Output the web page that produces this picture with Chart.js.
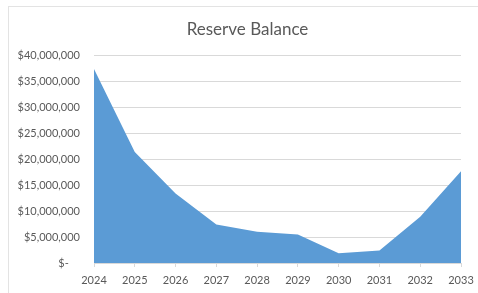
<!DOCTYPE html>
<html>
<head>
<meta charset="utf-8">
<script src="https://cdn.jsdelivr.net/npm/chart.js@4/dist/chart.umd.min.js"></script>
<style>
  html, body { margin: 0; padding: 0; background: #fff; }
  #wrap { width: 478px; height: 293px; position: relative; }
</style>
</head>
<body>
<div id="wrap"><canvas id="grafico"></canvas></div>
<script>
const years = ['2024', '2025', '2026', '2027', '2028', '2029', '2030', '2031', '2032', '2033'];
const balance = [37400000, 21400000, 13400000, 7400000, 6000000, 5500000, 1900000, 2400000, 8900000, 17700000];
const yTicks = [0, 5000000, 10000000, 15000000, 20000000, 25000000, 30000000, 35000000, 40000000];

// light frame round the chart, and title nudged right like the original
const frame = {
  id: 'frame',
  afterLayout(chart) {
    if (chart.titleBlock) chart.titleBlock.left += 26;
  },
  beforeDraw(chart) {
    const c = chart.ctx;
    c.save();
    c.strokeStyle = '#e3e3e3';
    c.lineWidth = 1;
    c.strokeRect(8.5, 6.5, 490, 300);
    c.restore();
  }
};

const ctx = document.getElementById('grafico').getContext('2d');
new Chart(ctx, {
  type: 'line',
  data: {
    labels: years,
    datasets: [{
      label: 'Reserve Balance',
      data: balance,
      fill: 'origin',
      backgroundColor: '#5b9bd5',
      borderColor: '#5b9bd5',
      borderWidth: 0,
      pointRadius: 0,
      tension: 0
    }]
  },
  options: {
    responsive: true,
    maintainAspectRatio: false,
    animation: false,
    layout: { padding: { left: 8, right: 17, top: 11, bottom: 0 } },
    plugins: {
      legend: { display: false },
      tooltip: { enabled: false },
      title: {
        display: true,
        text: 'Reserve Balance',
        color: '#595959',
        font: { family: 'Lato', size: 17, weight: 'normal' },
        padding: { top: 8, bottom: 16 }
      }
    },
    scales: {
      x: {
        offset: false,
        grid: { display: true, drawOnChartArea: false, tickLength: 4, color: '#d9d9d9' },
        border: { color: '#d9d9d9' },
        ticks: { color: '#595959', font: { family: 'Lato', size: 11 }, maxRotation: 0, padding: 7 },
        afterFit: s => { s.height = 30; s.paddingRight = 0; s.paddingLeft = 0; }
      },
      y: {
        min: 0,
        max: 40000000,
        afterBuildTicks: s => { s.ticks = yTicks.map(v => ({ value: v })); },
        grid: { color: '#d9d9d9', drawTicks: false },
        border: { display: false },
        ticks: {
          color: '#595959',
          font: { family: 'Lato', size: 11 },
          padding: 14,
          callback: v => v === 0 ? '$-    ' : '$' + v.toLocaleString('en-US')
        },
        afterFit: s => { s.width = 86; }
      }
    }
  },
  plugins: [frame]
});
</script>
</body>
</html>
